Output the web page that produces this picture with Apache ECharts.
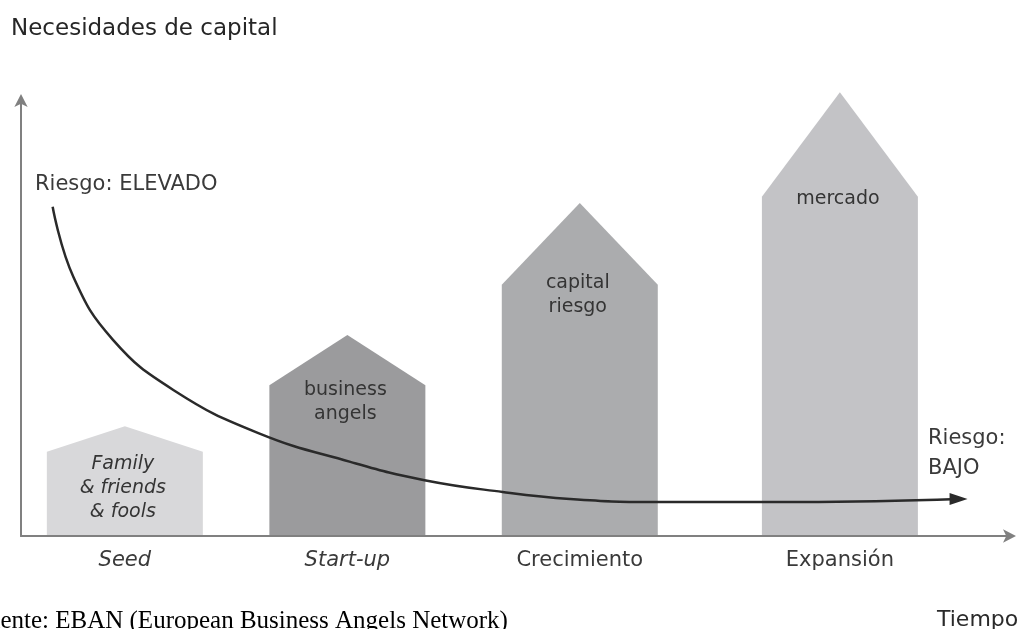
<!DOCTYPE html>
<html><head><meta charset="utf-8">
<script src="https://cdn.jsdelivr.net/npm/echarts/dist/echarts.min.js"></script>
<style>html,body{margin:0;padding:0;background:#fff}#c{width:1023px;height:629px}</style>
</head><body><div id="c"></div>
<script>
// ---- data ----
const stages = ['Seed', 'Start-up', 'Crecimiento', 'Expansión'];
const stageTime = [10.5, 33.0, 56.5, 82.8];
const capitalShoulder = [19.3, 34.6, 57.6, 77.8];
const capitalPeak = [25.2, 46.1, 76.4, 101.8];
const financingSource = ['Family\n& friends\n& fools', 'business\nangels', 'capital\nriesgo', 'mercado'];
const riskTime  = [3.2, 5.3, 9.3, 15.4, 24.0, 33.3, 40.8, 48.7, 55.5, 63.9, 78.8, 94.8];
const riskLevel = [75.5, 59.4, 45.0, 33.5, 23.6, 17.0, 12.8, 10.1, 8.5, 7.8, 7.8, 8.5];
const riskHigh = 'Riesgo: ELEVADO';
const riskLow = 'Riesgo:\nBAJO';

// ---- styles ----
const fills = ['#d8d8da', '#9b9b9d', '#abacae', '#c3c3c6'];
const italicStage = [true, true, false, false];
const italicSource = [true, false, false, false];
const sourceLabelDy = [10, 3, -4, 0];
const FONT = '"DejaVu Sans", sans-serif';
const HALF_W = 78;

const chart = echarts.init(document.getElementById('c'), null, {renderer: 'canvas'});

const riskData = riskTime.map((t, i) => {
  const item = {value: [t, riskLevel[i]]};
  if (i === riskTime.length - 1) {
    item.symbol = 'triangle';
    item.symbolSize = [12, 18];
    item.symbolRotate = -90;
    item.itemStyle = {color: '#2a2a2a'};
  }
  return item;
});

const axisCommon = {
  type: 'value', min: 0, max: 100,
  axisTick: {show: false}, axisLabel: {show: false}, splitLine: {show: false},
  axisLine: {show: true, lineStyle: {color: '#808080', width: 2}, symbol: ['none', 'arrow'], symbolSize: [10, 13], symbolOffset: [0, 6]}
};

chart.setOption({
  animation: false,
  backgroundColor: '#ffffff',
  grid: {left: 21, right: 13, top: 100, bottom: 93},
  xAxis: Object.assign({}, axisCommon),
  yAxis: Object.assign({}, axisCommon),
  series: [
    {
      type: 'custom',
      z: 2,
      data: stages.map((s, i) => [stageTime[i], capitalShoulder[i], capitalPeak[i]]),
      renderItem: function (params, api) {
        const i = params.dataIndex;
        const x = api.value(0);
        const base = api.coord([x, 0]);
        const s = api.coord([x, api.value(1)]);
        const p = api.coord([x, api.value(2)]);
        const by = base[1] - 1;
        return {
          type: 'group',
          children: [
            {
              type: 'polygon',
              shape: {points: [[base[0] - HALF_W, by], [base[0] - HALF_W, s[1]], [p[0], p[1]], [base[0] + HALF_W, s[1]], [base[0] + HALF_W, by]]},
              style: {fill: fills[i]}
            },
            {
              type: 'text',
              style: {
                text: financingSource[i], x: base[0] - 2, y: s[1] - 10 + sourceLabelDy[i],
                align: 'center', verticalAlign: 'top', lineHeight: 24,
                fontSize: 19, fontFamily: FONT, fontStyle: italicSource[i] ? 'italic' : 'normal',
                fill: '#343434'
              }
            },
            {
              type: 'text',
              style: {
                text: stages[i], x: base[0], y: base[1] + 25,
                align: 'center', verticalAlign: 'middle',
                fontSize: 21, fontFamily: FONT, fontStyle: italicStage[i] ? 'italic' : 'normal',
                fill: '#3a3a3a'
              }
            }
          ]
        };
      }
    },
    {
      type: 'line',
      z: 5,
      data: riskData,
      smooth: 0.45,
      symbol: 'none',
      showSymbol: true,
      showAllSymbol: true,
      lineStyle: {color: '#2a2a2a', width: 2.5}
    }
  ],
  graphic: [
    {type: 'text', left: 11, top: 18, style: {text: 'Necesidades de capital', fontSize: 23, fontFamily: FONT, fill: '#262626'}},
    {type: 'text', left: 35, top: 174, style: {text: riskHigh, fontSize: 21, fontFamily: FONT, fill: '#3a3a3a'}},
    {type: 'text', left: 928, top: 424, style: {text: riskLow, fontSize: 21, lineHeight: 30, fontFamily: FONT, fill: '#3a3a3a'}},
    {type: 'text', left: 937, top: 609, style: {text: 'Tiempo', fontSize: 22, fontFamily: FONT, fill: '#2a2a2a'}},
    {type: 'text', left: -26, top: 609, style: {text: 'Fuente: EBAN (European Business Angels Network)', fontSize: 25, fontFamily: '"Liberation Serif", "Times New Roman", serif', fill: '#000'}}
  ]
});
</script>
</body></html>
